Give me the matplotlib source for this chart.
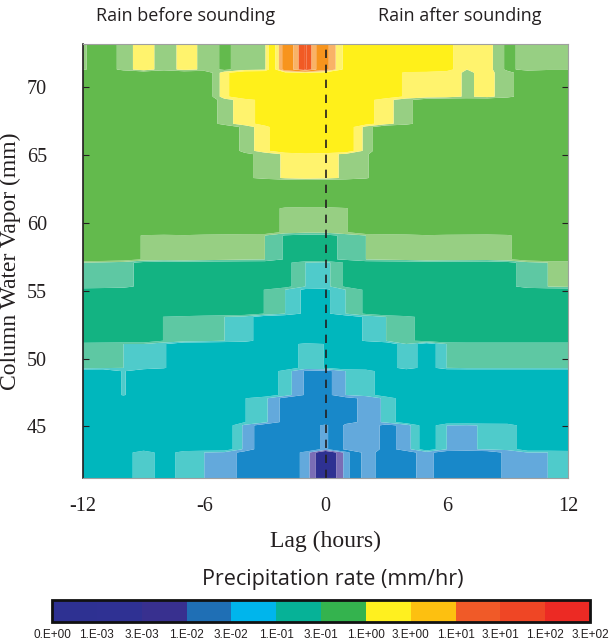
import numpy as np
import matplotlib
matplotlib.use('Agg')
import matplotlib.pyplot as plt
import matplotlib.cm as cm
from matplotlib.colors import ListedColormap, BoundaryNorm

# Lag (hours) columns and column-water-vapor bin edges (mm)
lag_hours = [-12, -11, -10, -9, -8, -7, -6, -5, -4, -3, -2, -1, 0,
             1, 2, 3, 4, 5, 6, 7, 8, 9, 10, 11, 12]
cwv_edges = [41.2, 43.2, 45.2, 47.2, 49.2, 51.2, 53.2, 55.2,
             57.2, 59.2, 61.2, 63.2, 65.2, 67.2, 69.2, 71.2, 73.2]

# Precipitation rate (mm/hr) per CWV bin, bottom bin first, lag -12..12
rate_42 = [0.05, 0.05, 0.05, 0.03, 0.05, 0.033, 0.03, 0.028, 0.02, 0.017, 0.017, 0.012, 0.005,
           0.011, 0.028, 0.018, 0.02, 0.026, 0.018, 0.017, 0.018, 0.025, 0.03, 0.03, 0.032]
rate_44 = [0.05, 0.05, 0.05, 0.05, 0.05, 0.05, 0.05, 0.05, 0.028, 0.018, 0.018, 0.017, 0.012,
           0.025, 0.03, 0.02, 0.026, 0.05, 0.03, 0.029, 0.031, 0.032, 0.05, 0.05, 0.05]
rate_46 = [0.05, 0.05, 0.05, 0.05, 0.05, 0.05, 0.05, 0.05, 0.04, 0.032, 0.02, 0.018, 0.018,
           0.02, 0.025, 0.032, 0.05, 0.05, 0.05, 0.05, 0.05, 0.05, 0.05, 0.05, 0.05]
rate_48 = [0.05, 0.05, 0.08, 0.05, 0.05, 0.05, 0.05, 0.05, 0.05, 0.05, 0.035, 0.022, 0.02,
           0.03, 0.033, 0.05, 0.05, 0.05, 0.05, 0.05, 0.05, 0.05, 0.05, 0.05, 0.05]
rate_50 = [0.11, 0.105, 0.1, 0.1, 0.08, 0.05, 0.05, 0.05, 0.05, 0.05, 0.05, 0.035, 0.04,
           0.05, 0.05, 0.055, 0.1, 0.06, 0.1, 0.105, 0.105, 0.105, 0.105, 0.105, 0.105]
rate_52 = [0.18, 0.18, 0.18, 0.18, 0.13, 0.12, 0.11, 0.1, 0.09, 0.06, 0.055, 0.06, 0.065,
           0.06, 0.08, 0.1, 0.12, 0.15, 0.18, 0.18, 0.18, 0.18, 0.18, 0.18, 0.18]
rate_54 = [0.18, 0.18, 0.18, 0.18, 0.18, 0.18, 0.18, 0.18, 0.17, 0.13, 0.1, 0.07, 0.07,
           0.1, 0.14, 0.18, 0.18, 0.18, 0.18, 0.18, 0.18, 0.18, 0.18, 0.18, 0.18]
rate_56 = [0.3, 0.28, 0.26, 0.2, 0.18, 0.18, 0.18, 0.18, 0.18, 0.18, 0.15, 0.1, 0.09,
           0.14, 0.18, 0.18, 0.18, 0.18, 0.18, 0.18, 0.18, 0.2, 0.27, 0.3, 0.32]
rate_58 = [0.55, 0.55, 0.5, 0.38, 0.36, 0.38, 0.35, 0.33, 0.31, 0.3, 0.22, 0.2, 0.2,
           0.25, 0.3, 0.32, 0.34, 0.38, 0.36, 0.35, 0.34, 0.37, 0.5, 0.55, 0.55]
rate_60 = [0.55, 0.55, 0.55, 0.55, 0.55, 0.55, 0.55, 0.55, 0.55, 0.55, 0.35, 0.32, 0.32,
           0.38, 0.55, 0.55, 0.55, 0.55, 0.55, 0.55, 0.55, 0.55, 0.55, 0.55, 0.55]
rate_62 = [0.55, 0.55, 0.55, 0.55, 0.55, 0.55, 0.55, 0.55, 0.55, 0.55, 0.55, 0.55, 0.55,
           0.55, 0.55, 0.55, 0.55, 0.55, 0.55, 0.55, 0.55, 0.55, 0.55, 0.55, 0.55]
rate_64 = [0.55, 0.55, 0.55, 0.55, 0.55, 0.55, 0.55, 0.55, 0.7, 0.85, 1.05, 1.2, 1.1,
           0.95, 0.8, 0.55, 0.55, 0.55, 0.55, 0.55, 0.55, 0.55, 0.55, 0.55, 0.55]
rate_66 = [0.55, 0.55, 0.55, 0.55, 0.55, 0.55, 0.55, 0.55, 0.85, 1.2, 1.8, 2.0, 2.0,
           1.7, 0.9, 0.55, 0.55, 0.55, 0.55, 0.55, 0.55, 0.55, 0.55, 0.55, 0.55]
rate_68 = [0.55, 0.55, 0.55, 0.55, 0.55, 0.55, 0.55, 0.9, 1.15, 1.5, 1.9, 2.0, 2.0,
           1.9, 1.5, 1.1, 0.85, 0.6, 0.55, 0.6, 0.55, 0.55, 0.55, 0.55, 0.55]
rate_70 = [0.55, 0.55, 0.55, 0.55, 0.55, 0.55, 0.55, 1.2, 1.8, 1.9, 2.0, 2.1, 2.0,
           1.9, 1.8, 1.6, 1.25, 1.2, 1.15, 0.95, 1.1, 0.85, 0.6, 0.55, 0.55]
rate_72 = [0.8, 0.6, 0.85, 1.2, 0.85, 1.1, 0.95, 0.7, 0.9, 0.95, 5.0, 14.0, 4.5,
           2.0, 1.8, 1.4, 1.6, 1.7, 1.5, 1.0, 1.15, 0.7, 0.85, 0.8, 0.8]

rate_rows = [rate_42, rate_44, rate_46, rate_48, rate_50, rate_52, rate_54, rate_56,
             rate_58, rate_60, rate_62, rate_64, rate_66, rate_68, rate_70, rate_72]

# Colorbar classes
rate_bounds = [0, 1e-3, 3e-3, 1e-2, 3e-2, 1e-1, 3e-1, 1, 3, 10, 30, 100, 300]
bound_labels = ['0.E+00', '1.E-03', '3.E-03', '1.E-02', '3.E-02', '1.E-01', '3.E-01',
                '1.E+00', '3.E+00', '1.E+01', '3.E+01', '1.E+02', '3.E+02']
cbar_colors = ['#2e3192', '#2f3193', '#38308f', '#1f6fb5', '#00b5ec', '#06b297',
               '#34b34e', '#fff01f', '#fdc010', '#f05a28', '#ef4625', '#ec2a24']

# colours used in the field: (full, light) per class
field_full = ['#2e3192', '#2e3192', '#2e3192', '#1888c9', '#00b7bd', '#13b382',
              '#63ba4d', '#fff01a', '#f7941d', '#f15a24', '#ee4123', '#ed2024']
field_light = ['#2e3192', '#2e3192', '#7a6db5', '#63a9dc', '#4fcbcb', '#5ec8a3',
               '#97cf83', '#fff36d', '#f9b267', '#f15a24', '#ee4123', '#ed2024']

# build contour levels in log space: light edge / full / light edge
log_bounds = [-4.0] + [np.log10(b) for b in rate_bounds[1:]]
edge = 0.12
levels = []
colors = []
for i in range(len(log_bounds) - 1):
    lo, hi = log_bounds[i], log_bounds[i + 1]
    if i < 2:
        levels.append(lo)
        colors.append(field_full[i])
    else:
        levels += [lo, lo + edge, hi - edge]
        colors += [field_light[i], field_full[i], field_light[i]]
levels.append(log_bounds[-1])

# blocky grid: each CWV bin keeps its own value over its height
gap = 0.12
y_rows = []
z_rows = []
for i, row in enumerate(rate_rows):
    lo, hi = cwv_edges[i], cwv_edges[i + 1]
    y_lo = lo if i == 0 else lo + gap
    y_hi = hi if i == len(rate_rows) - 1 else hi - gap
    y_rows += [y_lo, y_hi]
    z_rows += [row, row]

X, Y = np.meshgrid(lag_hours, y_rows)
Z = np.log10(np.array(z_rows))

fig = plt.figure(figsize=(6.12, 6.43), dpi=100)
ax = fig.add_axes([83 / 612, 1 - 478 / 643, 485 / 612, 434 / 643])

ax.contourf(X, Y, Z, levels=levels, colors=colors, antialiased=True)
ax.axvline(0, color='#231f20', lw=1.2, ls=(0, (5, 4)))

ax.set_xlim(-12, 12)
ax.set_ylim(41.2, 73.2)
ax.set_xticks([-12, -6, 0, 6, 12])
ax.set_xticklabels(['-12', '-6', '0', '6', '12'])
ax.set_yticks([45, 50, 55, 60, 65, 70])

serif = ['Liberation Serif', 'DejaVu Serif']
for lab in ax.get_xticklabels() + ax.get_yticklabels():
    lab.set_family(serif)
    lab.set_fontsize(14.5)
    lab.set_color('#231f20')
ax.tick_params(axis='y', direction='in', length=4, pad=26, right=True, color='#231f20')
ax.tick_params(axis='x', direction='in', length=0, pad=14)

ax.set_ylabel('Column Water Vapor (mm)', family=serif, fontsize=17, color='#231f20')
ax.yaxis.set_label_coords(-0.128, 0.5)
ax.set_xlabel('Lag (hours)', family=serif, fontsize=17, color='#231f20', labelpad=10)

for side in ['top', 'right', 'bottom']:
    ax.spines[side].set_color('#a0a0a0')
    ax.spines[side].set_linewidth(0.8)
ax.spines['left'].set_color('#231f20')
ax.spines['left'].set_linewidth(1.2)

sans = ['Open Sans', 'DejaVu Sans']
fig.text(186 / 612, 1 - 16 / 643, 'Rain before sounding', family=sans, fontsize=13,
         ha='center', va='center', color='#231f20')
fig.text(460 / 612, 1 - 16 / 643, 'Rain after sounding', family=sans, fontsize=13,
         ha='center', va='center', color='#231f20')

# colorbar with uniform class widths
cax = fig.add_axes([52 / 612, 1 - 622 / 643, 538 / 612, 22 / 643])
cmap = ListedColormap(cbar_colors)
norm = BoundaryNorm(np.arange(len(rate_bounds)), cmap.N)
cb = fig.colorbar(cm.ScalarMappable(norm=norm, cmap=cmap), cax=cax,
                  orientation='horizontal', ticks=np.arange(len(rate_bounds)))
cb.ax.set_xticklabels(bound_labels)
cb.ax.tick_params(length=0, pad=5, labelsize=8.5, labelcolor='#231f20')
for lab in cb.ax.get_xticklabels():
    lab.set_family(['Liberation Sans Narrow', 'Liberation Sans', 'DejaVu Sans'])
cb.outline.set_linewidth(2)
cb.outline.set_edgecolor('#111111')

fig.text(333 / 612, 1 - 580 / 643, 'Precipitation rate (mm/hr)', family=sans, fontsize=15.5,
         ha='center', va='center', color='#231f20')

fig.savefig('out.png', dpi=100)
